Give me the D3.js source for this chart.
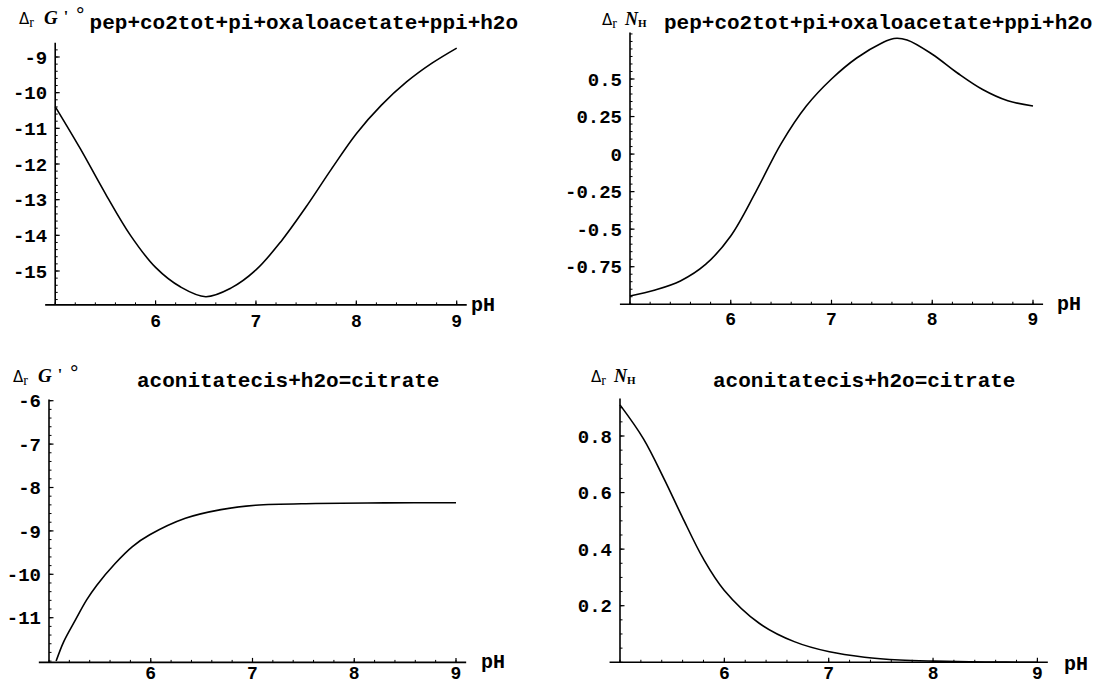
<!DOCTYPE html>
<html>
<head>
<meta charset="utf-8">
<script src="https://cdn.jsdelivr.net/npm/d3@7/dist/d3.min.js"></script>
<style>
  html, body { margin: 0; padding: 0; background: #fff; }
  svg { display: block; }
  .mono { font-family: "Courier New", "Liberation Mono", Cousine, "Nimbus Mono PS", "DejaVu Sans Mono", monospace; font-weight: bold; fill: #000; }
</style>
</head>
<body>
<svg id="chart" width="1095" height="683"></svg>
<script>
// ---------- DATA ----------
const titlePep = "pep+co2tot+pi+oxaloacetate+ppi+h2o";
const titleAco = "aconitatecis+h2o=citrate";
const xLabel = "pH";
const xTicks = [6, 7, 8, 9];

// Panel 1: Δr G'° for pep+co2tot+pi = oxaloacetate+ppi+h2o
const phPepG = [5.0, 5.25, 5.5, 5.75, 6.0, 6.25, 6.5, 6.75, 7.0, 7.25, 7.5, 7.75, 8.0, 8.25, 8.5, 8.75, 9.0];
const dgPep  = [-10.39, -11.57, -12.83, -14.0, -14.9, -15.45, -15.72, -15.48, -14.97, -14.17, -13.2, -12.15, -11.15, -10.35, -9.7, -9.18, -8.75];
const yTicksPepG = [-15, -14, -13, -12, -11, -10, -9];

// Panel 2: Δr NH for the same reaction
const phPepN = [5.0, 5.25, 5.5, 5.75, 6.0, 6.25, 6.5, 6.75, 7.0, 7.25, 7.5, 7.62, 7.75, 8.0, 8.25, 8.5, 8.75, 9.0];
const nhPep  = [-0.945, -0.905, -0.845, -0.735, -0.545, -0.25, 0.07, 0.32, 0.50, 0.64, 0.74, 0.77, 0.76, 0.665, 0.54, 0.43, 0.355, 0.32];
const yTicksPepN = [-0.75, -0.5, -0.25, 0, 0.25, 0.5];

// Panel 3: Δr G'° for aconitatecis+h2o = citrate
const phAcoG = [5.07, 5.145, 5.26, 5.37, 5.47, 5.65, 5.82, 5.99, 6.34, 6.69, 7.03, 7.62, 8.3, 9.0];
const dgAco  = [-12.0, -11.55, -11.05, -10.59, -10.25, -9.75, -9.36, -9.09, -8.71, -8.51, -8.41, -8.37, -8.355, -8.35];
const yTicksAcoG = [-11, -10, -9, -8, -7, -6];

// Panel 4: Δr NH for aconitatecis+h2o = citrate
const phAcoN = [5.0, 5.225, 5.427, 5.595, 5.797, 5.998, 6.334, 6.67, 7.007, 7.343, 7.68, 8.015, 8.5, 9.0];
const nhAco  = [0.91, 0.79, 0.645, 0.515, 0.367, 0.255, 0.138, 0.073, 0.037, 0.018, 0.008, 0.004, 0.001, 0.0];
const yTicksAcoN = [0.2, 0.4, 0.6, 0.8];

// ---------- LAYOUT ----------
const svg = d3.select("#chart");

const panels = [
  { xs: phPepG, ys: dgPep, yTicks: yTicksPepG, fmt: d => String(d),
    xr: [55.2, 456.7], yd: [-9, -15], yr: [57, 271], yBase: -15.95, yTop: -8.6, yMinorStep: 0.2,
    label: "G", labelX: 19, labelY: 24, title: titlePep, titleX: 89.6, titleY: 29,
    pHx: 471, pHy: 311, xLabY: 327 },
  { xs: phPepN, ys: nhPep, yTicks: yTicksPepN, fmt: d => (d === 0 ? "0" : String(d)),
    xr: [630, 1033], yd: [0.5, -0.75], yr: [79, 266.7], yBase: -1, yTop: 0.81, yMinorStep: 0.05,
    label: "N", labelX: 602, labelY: 25, title: titlePep, titleX: 664, titleY: 29,
    pHx: 1057, pHy: 310, xLabY: 325 },
  { xs: phAcoG, ys: dgAco, yTicks: yTicksAcoG, fmt: d => String(d),
    xr: [49, 456], yd: [-6, -11], yr: [400.7, 617.7], yBase: -12.03, yTop: -5.97, yMinorStep: 0.2,
    label: "G", labelX: 13, labelY: 382, title: titleAco, titleX: 137, titleY: 387,
    pHx: 481, pHy: 668, xLabY: 679 },
  { xs: phAcoN, ys: nhAco, yTicks: yTicksAcoN, fmt: d => String(d),
    xr: [620, 1037.4], yd: [0.8, 0.2], yr: [436, 605.7], yBase: 0, yTop: 0.933, yMinorStep: 0.05,
    label: "N", labelX: 591, labelY: 382, title: titleAco, titleX: 713, titleY: 387,
    pHx: 1064, pHy: 670, xLabY: 679 }
];

panels.forEach(p => {
  const x = d3.scaleLinear().domain([5, 9]).range(p.xr);
  const y = d3.scaleLinear().domain(p.yd).range(p.yr);
  const g = svg.append("g");
  const y0 = y(p.yBase);
  const x0 = x(5);

  // x axis line
  g.append("line").attr("x1", x(4.9)).attr("x2", x(9.1)).attr("y1", y0).attr("y2", y0)
    .attr("stroke", "#000").attr("stroke-width", 1.6);
  // y axis line
  g.append("line").attr("x1", x0).attr("x2", x0).attr("y1", y(p.yTop)).attr("y2", y0)
    .attr("stroke", "#000").attr("stroke-width", 1.6);

  // x minor + major ticks (inward)
  const xMinor = d3.range(5, 9.001, 0.2);
  g.selectAll(".xmin").data(xMinor).enter().append("line")
    .attr("x1", d => x(d)).attr("x2", d => x(d)).attr("y1", y0).attr("y2", y0 - 2.5)
    .attr("stroke", "#000").attr("stroke-width", 1);
  g.selectAll(".xmaj").data(xTicks).enter().append("line")
    .attr("x1", d => x(d)).attr("x2", d => x(d)).attr("y1", y0).attr("y2", y0 - 4.5)
    .attr("stroke", "#000").attr("stroke-width", 1.2);
  g.selectAll(".xlab").data(xTicks).enter().append("text")
    .attr("class", "mono").attr("x", d => x(d)).attr("y", p.xLabY)
    .attr("text-anchor", "middle").attr("font-size", 18).text(d => d);

  // y minor ticks
  const lo = Math.min(p.yBase, p.yTop), hi = Math.max(p.yBase, p.yTop);
  const yMinor = d3.range(Math.ceil(lo / p.yMinorStep) * p.yMinorStep, hi, p.yMinorStep);
  g.selectAll(".ymin").data(yMinor).enter().append("line")
    .attr("x1", x0).attr("x2", x0 + 2.5).attr("y1", d => y(d)).attr("y2", d => y(d))
    .attr("stroke", "#000").attr("stroke-width", 1);
  g.selectAll(".ymaj").data(p.yTicks).enter().append("line")
    .attr("x1", x0).attr("x2", x0 + 4.5).attr("y1", d => y(d)).attr("y2", d => y(d))
    .attr("stroke", "#000").attr("stroke-width", 1.2);
  g.selectAll(".ylab").data(p.yTicks).enter().append("text")
    .attr("class", "mono").attr("x", x0 - 8).attr("y", d => y(d))
    .attr("dy", "0.35em").attr("text-anchor", "end").attr("font-size", 19).text(p.fmt);

  // curve
  const line = d3.line().x(d => x(d[0])).y(d => y(d[1])).curve(d3.curveCatmullRom.alpha(0.5));
  g.append("path").datum(d3.zip(p.xs, p.ys)).attr("d", line)
    .attr("fill", "none").attr("stroke", "#000").attr("stroke-width", 1.6);

  // axis label (pH)
  g.append("text").attr("class", "mono").attr("x", p.pHx).attr("y", p.pHy)
    .attr("font-size", 20).attr("font-weight", "normal").text(xLabel);

  // quantity label  Δr G'°  or  Δr NH
  const lab = g.append("text").attr("x", p.labelX).attr("y", p.labelY)
    .attr("font-family", "Liberation Serif, serif").attr("fill", "#000");
  lab.append("tspan").attr("font-family", "DejaVu Sans, sans-serif").attr("font-size", 15).text("Δ");
  lab.append("tspan").attr("font-size", 14).attr("dy", 3).text("r");
  if (p.label === "G") {
    lab.append("tspan").attr("font-size", 19).attr("font-style", "italic").attr("font-weight", "bold")
      .attr("dx", 10).attr("dy", -3).text("G");
    lab.append("tspan").attr("font-size", 16).attr("font-weight", "bold").attr("dx", 6).attr("dy", -2).text("'");
    lab.append("tspan").attr("font-size", 20).attr("font-weight", "bold").attr("dx", 8).attr("dy", -1).text("°");
  } else {
    lab.append("tspan").attr("font-size", 18).attr("font-style", "italic").attr("font-weight", "bold")
      .attr("dx", 8).attr("dy", -3).text("N");
    lab.append("tspan").attr("font-size", 11).attr("font-weight", "bold").attr("dy", 2).text("H");
  }

  // reaction title
  g.append("text").attr("class", "mono").attr("x", p.titleX).attr("y", p.titleY)
    .attr("font-size", 21).text(p.title);
});
</script>
</body>
</html>
